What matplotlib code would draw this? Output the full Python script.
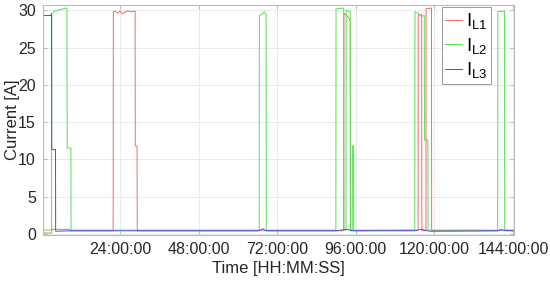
import matplotlib
matplotlib.use("Agg")
import matplotlib.pyplot as plt
from matplotlib.ticker import FuncFormatter

plt.rcParams["font.family"] = ["Liberation Sans", "DejaVu Sans"]
plt.rcParams["mathtext.fontset"] = "custom"
plt.rcParams["mathtext.rm"] = "Liberation Sans"

# phase currents, time in hours, breakpoints
t_l1 = [0.45, 3.1, 3.2, 8.5, 9.0, 21.9, 21.95, 22.5, 23.3, 24.0, 24.8, 25.5, 26.5, 27.5, 28.6,
        28.65, 29.2, 29.25, 66.5, 67.5, 68.5, 92.3, 92.35, 93.5, 94.3, 94.35, 115.0, 115.05,
        116.1, 116.15, 117.4, 117.45, 119.1, 119.15, 139.3, 140.3, 141.4, 144.2]
i_l1 = [0.1, 0.1, 0.6, 0.6, 0.4, 0.4, 29.8, 29.9, 29.6, 29.9, 29.5, 29.8, 29.9, 29.8, 29.9,
        11.8, 11.8, 0.4, 0.4, 0.7, 0.4, 0.4, 29.6, 29.2, 28.6, 0.4, 0.5, 29.4,
        29.4, 0.4, 0.4, 30.2, 30.3, 0.4, 0.4, 0.6, 0.4, 0.4]

t_l2 = [0.45, 0.5, 3.1, 3.15, 3.6, 4.0, 5.0, 6.0, 7.4, 7.8, 7.85, 9.0, 9.05, 66.5, 66.55,
        67.5, 68.0, 68.6, 68.65, 89.9, 89.95, 92.3, 92.35, 93.0, 93.05, 94.3, 94.35, 94.9,
        94.95, 95.3, 95.35, 114.0, 114.05, 115.0, 116.0, 116.9, 116.95, 118.0, 118.05,
        139.3, 139.35, 141.4, 141.45, 144.2]
i_l2 = [12.5, 0.5, 0.5, 29.6, 29.7, 29.9, 30.0, 30.1, 30.3, 30.2, 11.5, 11.5, 0.5, 0.5, 29.3,
        29.5, 29.8, 29.5, 0.5, 0.5, 30.2, 30.3, 0.5, 0.5, 30.0, 29.8, 0.5, 0.5,
        11.8, 11.8, 0.5, 0.5, 29.8, 29.6, 29.2, 29.3, 12.6, 12.6, 0.5,
        0.5, 29.8, 29.9, 0.5, 0.5]

t_l3 = [0.45, 2.9, 3.1, 3.15, 4.3, 4.35, 9.0, 20.0, 28.0, 66.0, 67.5, 69.0, 90.0, 93.0,
        95.5, 114.0, 116.0, 118.5, 139.0, 140.5, 144.2]
i_l3 = [29.3, 29.3, 29.5, 11.3, 11.3, 0.35, 0.4, 0.4, 0.4, 0.4, 0.55, 0.4, 0.4, 0.6,
        0.4, 0.4, 0.6, 0.35, 0.4, 0.5, 0.4]

x_ticks = [24, 48, 72, 96, 120, 144]
y_ticks = [0, 5, 10, 15, 20, 25, 30]

fig = plt.figure(figsize=(5.5, 2.82), dpi=100)
ax = fig.add_axes([0.078, 0.167, 0.856, 0.815])

ax.plot(t_l1, i_l1, color="#f26a6a", lw=0.7, label=r"$\mathregular{I_{L1}}$")
ax.plot(t_l2, i_l2, color="#55e055", lw=0.7, label=r"$\mathregular{I_{L2}}$")
ax.plot(t_l3, i_l3, color="#4a4ae6", lw=0.7, label=r"$\mathregular{I_{L3}}$")

ax.set_xlim(0.45, 144.2)
ax.set_ylim(-0.15, 30.7)
ax.set_xticks(x_ticks)
ax.set_yticks(y_ticks)
ax.xaxis.set_major_formatter(FuncFormatter(lambda v, p: f"{int(round(v)):02d}:00:00"))
ax.grid(True, color="#e6e6e6", lw=0.6)
ax.set_axisbelow(True)
ax.tick_params(direction="in", length=3, colors="#bbbbbb", labelcolor="#262626",
               labelsize=11.5, top=True, right=True, pad=5)
for s in ax.spines.values():
    s.set_color("#bbbbbb")
    s.set_linewidth(0.8)

ax.set_xlabel("Time [HH:MM:SS]", fontsize=12, color="#262626", labelpad=3)
ax.set_ylabel("Current [A]", fontsize=12, color="#262626", labelpad=-1)

leg = ax.legend(loc="upper right", bbox_to_anchor=(0.952, 0.99), fontsize=13.5,
                fancybox=False, framealpha=1, edgecolor="#999999", handlelength=0.9,
                handletextpad=0.2, borderpad=0.2, labelspacing=0.25, borderaxespad=0.0)
leg.get_frame().set_linewidth(0.7)

fig.savefig("out.png", dpi=100)
